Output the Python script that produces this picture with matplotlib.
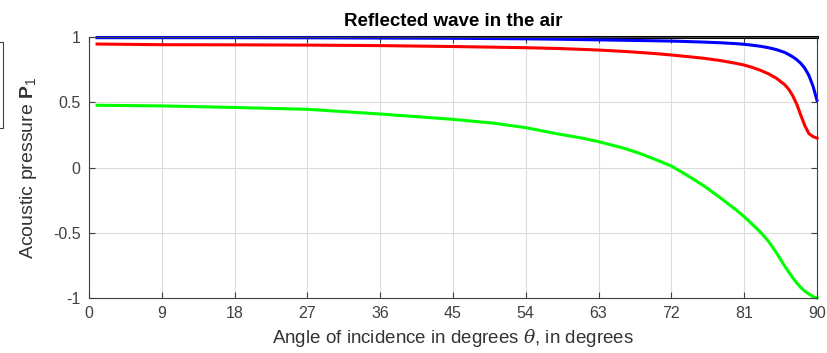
import matplotlib
matplotlib.use("Agg")
import matplotlib.pyplot as plt
from matplotlib.patches import Rectangle

# angle of incidence (degrees)
theta = [1, 9, 18, 27, 36, 45, 50, 54, 58, 61, 63, 66, 68, 70, 72, 74, 76, 78, 80, 81, 82, 83,
         84, 85, 86, 86.5, 87, 87.5, 88, 88.5, 89, 89.5, 90]

p_black = [1.0] * len(theta)
p_blue = [0.995, 0.995, 0.995, 0.994, 0.992, 0.99, 0.988, 0.986, 0.983, 0.98, 0.978, 0.975, 0.973,
          0.971, 0.969, 0.965, 0.961, 0.956, 0.949, 0.944, 0.937, 0.929, 0.918, 0.903, 0.882, 0.866,
          0.848, 0.826, 0.798, 0.76, 0.705, 0.625, 0.515]
p_red = [0.946, 0.941, 0.94, 0.938, 0.934, 0.927, 0.922, 0.918, 0.912, 0.905, 0.90, 0.89, 0.882,
         0.873, 0.862, 0.85, 0.837, 0.82, 0.798, 0.785, 0.767, 0.745, 0.718, 0.683, 0.635, 0.60,
         0.55, 0.485, 0.40, 0.32, 0.26, 0.237, 0.225]
p_green = [0.477, 0.472, 0.46, 0.446, 0.41, 0.369, 0.34, 0.305, 0.257, 0.225, 0.198, 0.15, 0.11,
           0.062, 0.011, -0.062, -0.14, -0.23, -0.325, -0.377, -0.435, -0.495, -0.565, -0.655,
           -0.755, -0.80, -0.845, -0.885, -0.92, -0.948, -0.97, -0.988, -1.0]

xticks = [0, 9, 18, 27, 36, 45, 54, 63, 72, 81, 90]
yticks = [-1, -0.5, 0, 0.5, 1]

plt.rcParams['font.family'] = ['Liberation Sans', 'DejaVu Sans']
plt.rcParams['mathtext.fontset'] = 'custom'
plt.rcParams['mathtext.rm'] = 'Liberation Sans'
plt.rcParams['mathtext.bf'] = 'Liberation Sans:bold'
plt.rcParams['mathtext.it'] = 'DejaVu Serif:italic'

fig = plt.figure(figsize=(8.27, 3.53), dpi=100)
ax = fig.add_axes([89 / 827, 55 / 353, 728 / 827, 261 / 353])

ax.plot(theta, p_black, color='black', lw=2.2, clip_on=False)
ax.plot(theta, p_blue, color='#0000ff', lw=2.2, clip_on=False)
ax.plot(theta, p_red, color='#ff0000', lw=2.2, clip_on=False)
ax.plot(theta, p_green, color='#00ff00', lw=2.2, clip_on=False)

ax.set_xlim(0, 90)
ax.set_ylim(-1, 1)
ax.set_xticks(xticks)
ax.set_xticklabels([str(t) for t in xticks])
ax.set_yticks(yticks)
ax.set_yticklabels(['-1', '-0.5', '0', '0.5', '1'])
ax.grid(True, color='#dcdcdc', lw=0.8)
ax.set_axisbelow(True)
ax.tick_params(direction='in', length=4, width=0.8, color='#404040', labelsize=11.5,
               labelcolor='#404040', top=True, right=True, pad=6)
for s in ax.spines.values():
    s.set_color('#404040')
    s.set_linewidth(0.8)

ax.set_title('Reflected wave in the air', fontsize=13.5, fontweight='bold', pad=8)
ax.set_xlabel(r'Angle of incidence in degrees $\theta$, in degrees', fontsize=13.5,
              color='#333333', labelpad=4)
ax.set_ylabel(r'Acoustic pressure $\mathbf{P}_1$', fontsize=14, color='#333333', labelpad=10)

# clipped legend box at the left edge
fig.patches.append(Rectangle((-10 / 827, (353 - 128) / 353), 13 / 827, 86 / 353,
                             transform=fig.transFigure, fill=False, edgecolor='#404040', lw=0.8))

plt.savefig('out.png', dpi=100)
